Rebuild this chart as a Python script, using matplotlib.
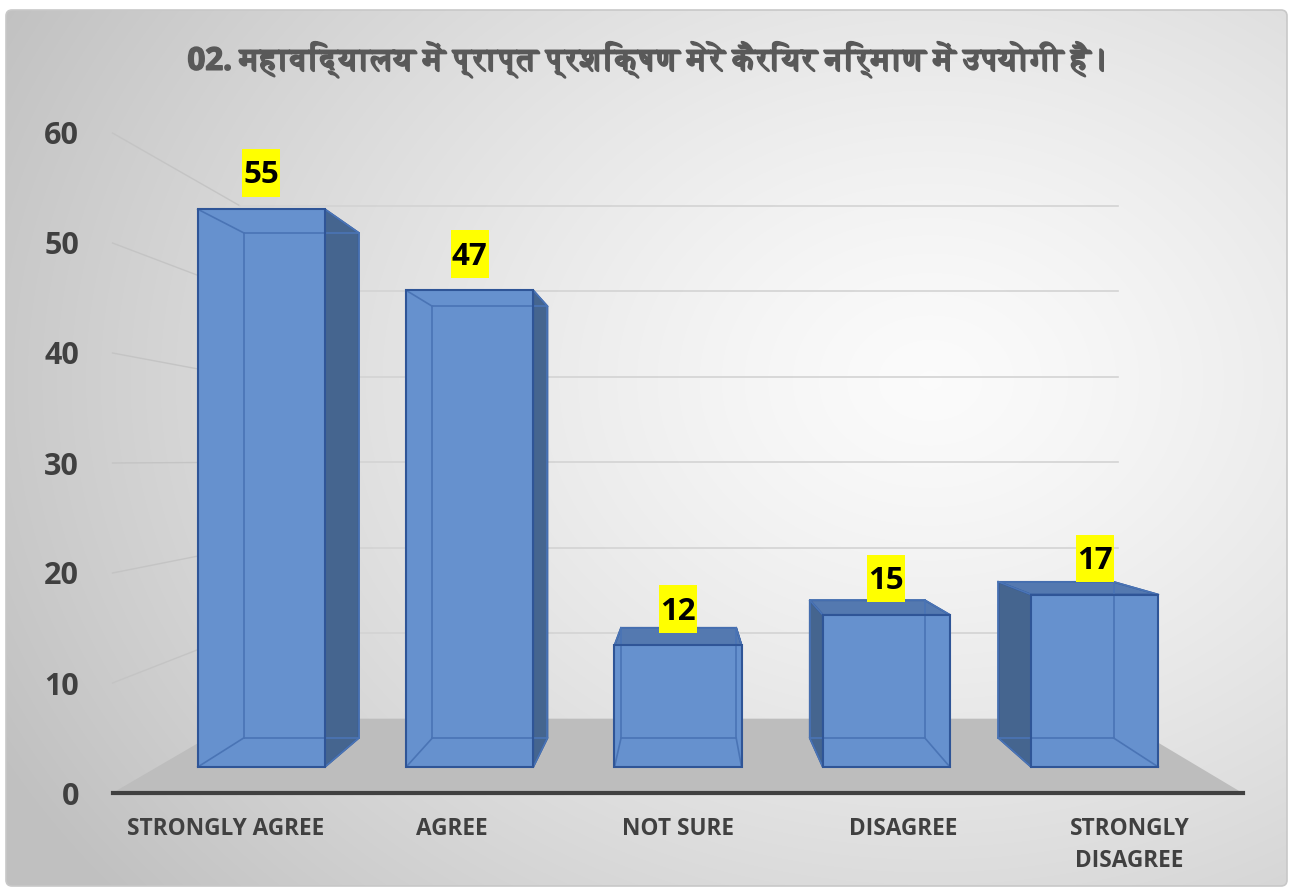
import numpy as np
import matplotlib
matplotlib.use("Agg")
import matplotlib.pyplot as plt
from matplotlib.patches import Polygon, FancyBboxPatch
from matplotlib.path import Path
from matplotlib import patheffects as pe
from matplotlib import font_manager as fm
from matplotlib.ft2font import FT2Font

# ---------------- data ----------------
title = "02. महाविद्यालय में प्राप्त प्रशिक्षण मेरे कैरियर निर्माण में उपयोगी है।"
categories = ["STRONGLY AGREE", "AGREE", "NOT SURE", "DISAGREE", "STRONGLY\nDISAGREE"]
values = [55, 47, 12, 15, 17]
yticks = [0, 10, 20, 30, 40, 50, 60]

# ---------------- fonts ----------------
deva = None
for f in fm.fontManager.ttflist:
    try:
        if 0x092E in FT2Font(f.fname).get_charmap():
            deva = f.name
            if f.weight in ("bold", 700):
                break
    except Exception:
        pass
main_font = "Open Sans"
title_family = [main_font] + ([deva] if deva else []) + ["DejaVu Sans"]

W, H = 1293, 896
fig = plt.figure(figsize=(W / 100, H / 100), dpi=100)
fig.patch.set_facecolor("white")

# ---------------- background ----------------
bg = fig.add_axes([0, 0, 1, 1])
bg.set_xlim(0, W)
bg.set_ylim(H, 0)
bg.axis("off")
yy, xx = np.mgrid[0:H, 0:W]
d = np.sqrt(((xx - 930) / 1050.0) ** 2 + ((yy - 380) / 820.0) ** 2)
d = np.clip(d, 0, 1) ** 1.3
c0 = np.array([0.985, 0.985, 0.985])
c1 = np.array([0.755, 0.755, 0.755])
img = c0[None, None, :] * (1 - d[..., None]) + c1[None, None, :] * d[..., None]
frame = FancyBboxPatch((6, 10), W - 12, H - 20, boxstyle="round,pad=0,rounding_size=6",
                       fc="none", ec="#c8c8c8", lw=1.2, zorder=3)
bg.add_patch(frame)
im = bg.imshow(img, extent=(0, W, H, 0), zorder=1)
im.set_clip_path(frame)

# ---------------- main axes (front plane coordinates) ----------------
ax = fig.add_axes([112.5 / W, (H - 793) / H, 1130 / W, 660 / H])
ax.set_xlim(-0.5, 4.5)
ax.set_ylim(0, 60)
ax.patch.set_visible(False)
for s in ("left", "right", "top"):
    ax.spines[s].set_visible(False)
ax.spines["bottom"].set_color("#404040")
ax.spines["bottom"].set_linewidth(3)
ax.spines["bottom"].set_zorder(6)

VX, VY = 2.03, 30.3          # vanishing point in front-plane data units
K_WALL = 0.777
K_FRONT, K_BACK = 0.922, 0.835
HALF_W = 0.305


def proj(x, y, k):
    return (VX + k * (x - VX), VY + k * (y - VY))


def label_box(x0, y0, width, height, mutation_size):
    padx = 0.04 * mutation_size
    pad_bot = 0.2 * mutation_size
    pad_top = 0.36 * mutation_size
    xa, xb = x0 - padx, x0 + width + padx
    ya, yb = y0 - pad_bot, y0 + height + pad_top
    return Path([(xa, ya), (xb, ya), (xb, yb), (xa, yb), (xa, ya)], closed=True)


# floor
floor = [proj(-0.5, 0, 1.0), proj(4.5, 0, 1.0), proj(4.5, 0, K_WALL), proj(-0.5, 0, K_WALL)]
ax.add_patch(Polygon(floor, closed=True, fc="#bdbdbd", ec="none", zorder=1, clip_on=False))

# gridlines (back wall + left wall)
for t in yticks[1:]:
    p0 = proj(-0.5, t, 1.0)
    p1 = proj(-0.5, t, K_WALL)
    p2 = proj(4.5, t, K_WALL)
    ax.plot([p0[0], p1[0]], [p0[1], p1[1]], color="#c4c4c4", lw=1, zorder=1, clip_on=False)
    ax.plot([p1[0], p2[0]], [p1[1], p2[1]], color="#d3d3d3", lw=1.2, zorder=1, clip_on=False)

# bars
front_c = "#6691ce"
dark_side = "#45658f"
top_c = "#5479b0"
edge_c = "#2f5597"
hidden_c = "#4a74b5"
for i, v in enumerate(values):
    x0, x1 = i - HALF_W, i + HALF_W
    f = [proj(x0, 0, K_FRONT), proj(x1, 0, K_FRONT), proj(x1, v, K_FRONT), proj(x0, v, K_FRONT)]
    b = [proj(x0, 0, K_BACK), proj(x1, 0, K_BACK), proj(x1, v, K_BACK), proj(x0, v, K_BACK)]
    if i < VX:
        side = [f[1], b[1], b[2], f[2]]
    else:
        side = [f[0], b[0], b[3], f[3]]
    ax.add_patch(Polygon(side, closed=True, fc=dark_side, ec=edge_c, lw=1.3, zorder=3, clip_on=False))
    top = [f[3], f[2], b[2], b[3]]
    if v < VY:
        ax.add_patch(Polygon(top, closed=True, fc=top_c, ec=edge_c, lw=1.3, zorder=3, clip_on=False))
    ax.add_patch(Polygon(f, closed=True, fc=front_c, ec="none", zorder=4, clip_on=False))
    for a, c in [(b[0], b[1]), (b[1], b[2]), (b[2], b[3]), (b[3], b[0]),
                 (f[0], b[0]), (f[1], b[1]), (f[2], b[2]), (f[3], b[3])]:
        ax.plot([a[0], c[0]], [a[1], c[1]], color=hidden_c, lw=1.2, zorder=4.5, clip_on=False)
    ax.add_patch(Polygon(f, closed=True, fc="none", ec=edge_c, lw=1.5, zorder=5, clip_on=False))
    lx, ly = proj(i, v, K_FRONT)
    ax.annotate(str(v), xy=(lx, ly), xytext=(0, 13.5), textcoords="offset points",
                ha="center", va="bottom", fontsize=22.5, fontweight="bold", family=main_font,
                color="black", zorder=8,
                bbox=dict(boxstyle=label_box, fc="#ffff00", ec="none"))

# ticks
ax.set_yticks(yticks)
ax.set_yticklabels([str(t) for t in yticks], fontsize=22, fontweight="bold",
                   family=main_font, color="#404040")
ax.tick_params(axis="y", length=0, pad=24)
ax.set_xticks(range(len(categories)))
ax.set_xticklabels(categories, fontsize=16.3, fontweight="bold", family=main_font,
                   color="#404040", linespacing=1.45)
ax.tick_params(axis="x", length=0, pad=17.5)

fig.text(647 / W, 1 - 60 / H, title, ha="center", va="center", fontsize=22.5,
         fontweight="bold", family=title_family, color="#595959",
         path_effects=[pe.withStroke(linewidth=1.1, foreground="#595959")])

fig.savefig("out.png", dpi=100, facecolor="white")
